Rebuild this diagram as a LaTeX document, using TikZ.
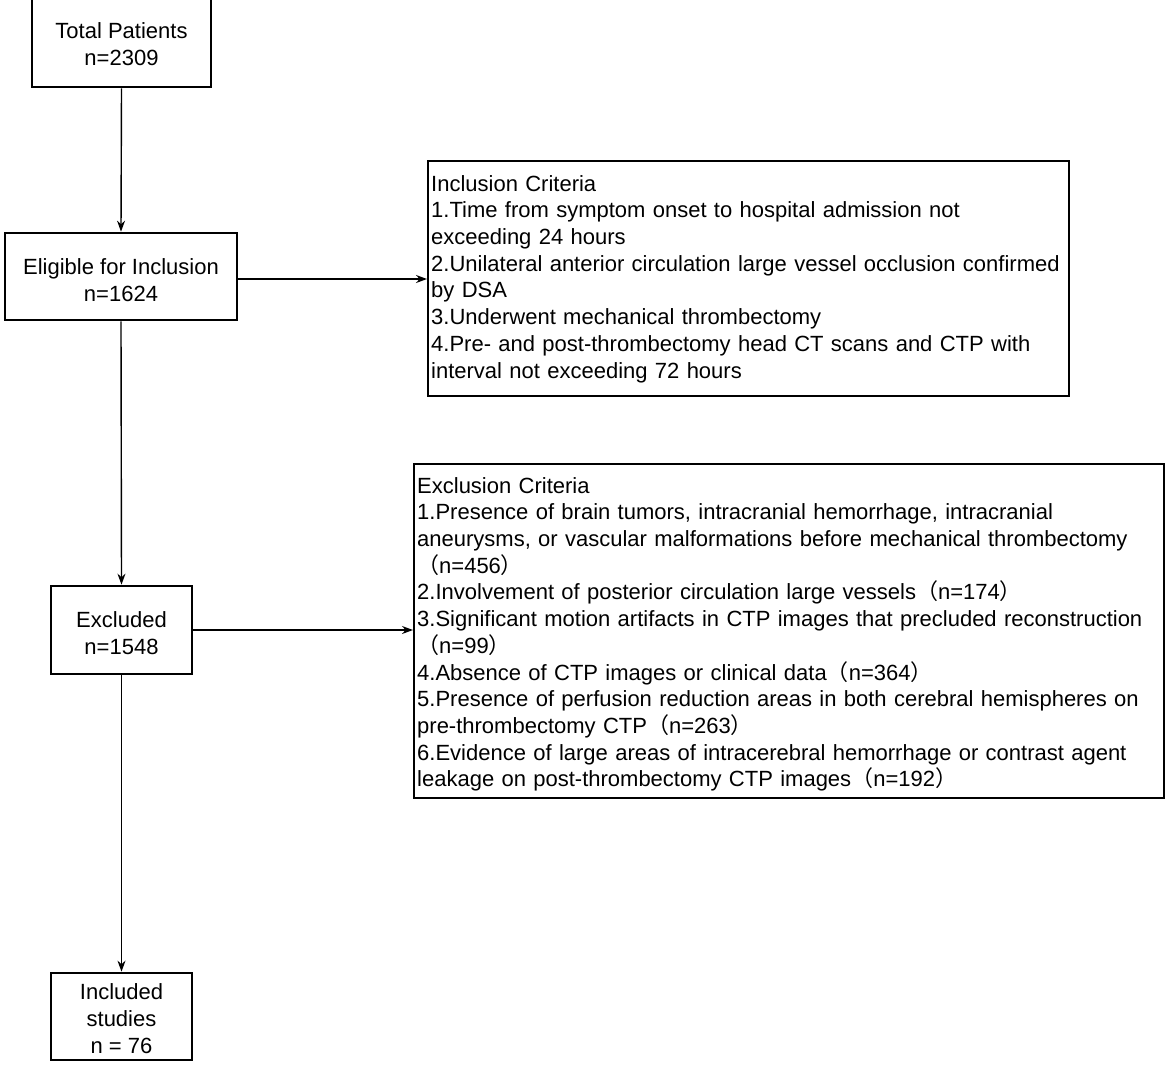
\documentclass[tikz,border=0pt]{standalone}
\usepackage{fontspec}
\setmainfont{Liberation Sans}
\newfontfamily\cjk{Noto Sans CJK SC}
\usetikzlibrary{arrows.meta}
\newcommand{\lpar}{{\cjk （}}
\newcommand{\rpar}{{\cjk ）}}
\begin{document}
\begin{tikzpicture}[x=1pt,y=-1pt,
  box/.style={draw, line width=2.7pt, inner sep=0pt},
  boxtext/.style={inner sep=0pt, align=center, font=\fontsize{22}{27}\selectfont},
  critbox/.style={draw, line width=2.2pt, inner sep=0pt, anchor=north west},
  crittext/.style={inner xsep=4pt, inner ysep=0pt, anchor=north west,
    align=left, font=\fontsize{22}{26.7}\selectfont},
  conn/.style={line width=1.4pt, -{Stealth[length=11pt,width=8pt]}}]
\clip (0,0) rectangle (1170,1066);
\fill[white] (0,0) rectangle (1170,1066);

\node[box, minimum width=179pt, minimum height=91pt,
  label={[boxtext, yshift=-3pt]center:{Total Patients\\n=2309}}] (total) at (121.5,41.5) {};
\node[box, minimum width=232pt, minimum height=87pt,
  label={[boxtext, yshift=-4pt]center:{Eligible for Inclusion\\n=1624}}] (elig) at (121,276.5) {};
\node[box, minimum width=141pt, minimum height=88pt,
  label={[boxtext, yshift=-3pt]center:{Excluded\\n=1548}}] (excl) at (121.5,630) {};
\node[box, minimum width=141pt, minimum height=87pt,
  label={[boxtext, yshift=-2pt]center:{Included\\studies\\n = 76}}] (incl) at (121.5,1016.5) {};

\node[critbox, minimum width=641pt, minimum height=235pt] (inc) at (427,160) {};
\node[crittext, text width=633pt] (inctext) at ([yshift=-15pt]inc.north west)
  {Inclusion Criteria\\
   1.Time from symptom onset to hospital admission not\\
   exceeding 24 hours\\
   2.Unilateral anterior circulation large vessel occlusion confirmed\\
   by DSA\\
   3.Underwent mechanical thrombectomy\\
   4.Pre- and post-thrombectomy head CT scans and CTP with\\
   interval not exceeding 72 hours};

\node[critbox, minimum width=750pt, minimum height=334pt] (exc) at (413,463) {};
\node[crittext, text width=742pt] (exctext) at ([yshift=-14pt]exc.north west)
  {Exclusion Criteria\\
   1.Presence of brain tumors, intracranial hemorrhage, intracranial\\
   aneurysms, or vascular malformations before mechanical thrombectomy\\
   \lpar n=456\rpar\\
   2.Involvement of posterior circulation large vessels\lpar n=174\rpar\\
   3.Significant motion artifacts in CTP images that precluded reconstruction\\
   \lpar n=99\rpar\\
   4.Absence of CTP images or clinical data\lpar n=364\rpar\\
   5.Presence of perfusion reduction areas in both cerebral hemispheres on\\
   pre-thrombectomy CTP\lpar n=263\rpar\\
   6.Evidence of large areas of intracerebral hemorrhage or contrast agent\\
   leakage on post-thrombectomy CTP images\lpar n=192\rpar};

\draw[conn] (total.south) -- (elig.north);
\draw[conn] (elig.south) -- (excl.north);
\draw[conn] (excl.south) -- (incl.north);
\draw[conn] ([yshift=-2.5pt]elig.east) -- ([yshift=-2.5pt]elig.east -| inc.west);
\draw[conn] (excl.east) -- (excl.east -| exc.west);
\end{tikzpicture}
\end{document}
